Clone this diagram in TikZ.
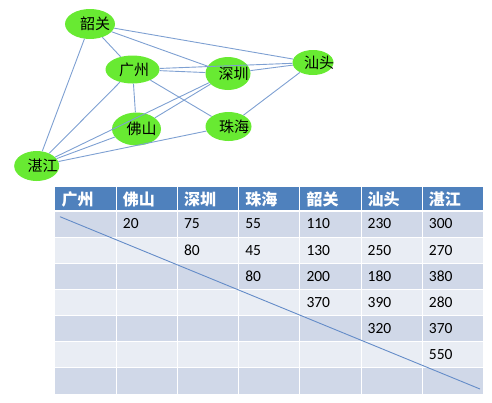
\documentclass[tikz,border=0pt]{standalone}
\usepackage{fontspec}
\setmainfont{Carlito}
\newfontfamily\cjk{Noto Sans CJK SC}
\usetikzlibrary{shapes.geometric}
\definecolor{citygreen}{RGB}{104,234,50}
\definecolor{edgeblue}{RGB}{126,160,210}
\definecolor{hdrblue}{RGB}{79,129,189}
\definecolor{banddark}{RGB}{208,216,232}
\definecolor{bandlight}{RGB}{233,237,244}
\definecolor{diagblue}{RGB}{100,140,200}
\tikzset{
  city/.style={ellipse, fill=citygreen, inner sep=0pt, font=\cjk\fontsize{15}{15}\selectfont, text=black},
  edge/.style={draw=edgeblue, line width=0.9pt},
  hdr/.style={anchor=west, inner sep=0pt, text=white, font=\cjk\bfseries\fontsize{16}{16}\selectfont},
  num/.style={anchor=west, inner sep=0pt, text=black, font=\fontsize{15.5}{15.5}\selectfont},
}
\newcommand{\ctext}[2]{\makebox[0pt]{\kern#1pt #2}}
\begin{document}
\begin{tikzpicture}[x=1pt,y=-1pt]
\useasboundingbox (0,0) rectangle (492,402);
% ---- graph ----
\node[city, minimum width=50pt, minimum height=30pt] (sg) at (90,24) {\ctext{10}{韶关}};
\node[city, minimum width=54pt, minimum height=28pt] (gz) at (132.5,69.5) {\ctext{3}{广州}};
\node[city, minimum width=45pt, minimum height=33pt] (sz) at (228,73.5) {\ctext{11}{深圳}};
\node[city, minimum width=41pt, minimum height=25pt] (st) at (313,62.5) {\ctext{12}{汕头}};
\node[city, minimum width=49pt, minimum height=33pt] (fs) at (136.5,129) {\ctext{10}{佛山}};
\node[city, minimum width=46pt, minimum height=29pt] (zh) at (228.5,126.5) {\ctext{11}{珠海}};
\node[city, minimum width=45pt, minimum height=30pt] (zj) at (36.7,166) {\ctext{12}{湛江}};
% edges
\draw[edge] (sg) -- (zj);
\draw[edge] (sg) -- (gz);
\draw[edge] (sg) -- (sz);
\draw[edge] (sg) -- (st);
\draw[edge] (gz) -- (st);
\draw[edge] (gz) -- (sz);
\draw[edge] (gz) -- (fs);
\draw[edge] (gz) -- (zh);
\draw[edge] (gz) -- (zj);
\draw[edge] (sz) -- (st);
\draw[edge] (sz) -- (zj);
\draw[edge] (sz) -- (fs);
\draw[edge] (st) -- (zh);
\draw[edge] (zh) -- (zj);
\draw[edge] (fs) -- (zj);
% ---- table ----
\fill[hdrblue] (55,187) rectangle (483.4,211);
\foreach \r in {0,...,6}{
  \pgfmathsetmacro{\yt}{211+26.14*\r}
  \pgfmathsetmacro{\yb}{211+26.14*(\r+1)}
  \pgfmathtruncatemacro{\odd}{mod(\r,2)}
  \ifnum\odd=0
    \fill[banddark] (55,\yt) rectangle (483.4,\yb);
  \else
    \fill[bandlight] (55,\yt) rectangle (483.4,\yb);
  \fi
}
\foreach \c in {1,...,6}{
  \draw[white, line width=1pt] ({55+61.2*\c},187) -- ({55+61.2*\c},394);
}
\draw[white, line width=2.2pt] (55,211) -- (483.4,211);
\foreach \r in {1,...,6}{
  \draw[white, line width=1.2pt] (55,{211+26.14*\r}) -- (483.4,{211+26.14*\r});
}
% header
\foreach \t [count=\i from 0] in {广州,佛山,深圳,珠海,韶关,汕头,湛江}{
  \node[hdr] (h\i) at ({61.5+61.2*\i},199.5) {\t};
}
% numbers
\newcommand{\cellnum}[3]{\node[num] (n#1#2) at ({61.5+61.2*#2},{224+26.14*#1}) {#3};}
\cellnum{0}{1}{20}\cellnum{0}{2}{75}\cellnum{0}{3}{55}\cellnum{0}{4}{110}\cellnum{0}{5}{230}\cellnum{0}{6}{300}
\cellnum{1}{2}{80}\cellnum{1}{3}{45}\cellnum{1}{4}{130}\cellnum{1}{5}{250}\cellnum{1}{6}{270}
\cellnum{2}{3}{80}\cellnum{2}{4}{200}\cellnum{2}{5}{180}\cellnum{2}{6}{380}
\cellnum{3}{4}{370}\cellnum{3}{5}{390}\cellnum{3}{6}{280}
\cellnum{4}{5}{320}\cellnum{4}{6}{370}
\cellnum{5}{6}{550}
% diagonal
\coordinate (d1) at (60,216.7);
\coordinate (d2) at (480,389);
\draw[diagblue, line width=0.9pt] (d1) -- (d2);
\end{tikzpicture}
\end{document}
